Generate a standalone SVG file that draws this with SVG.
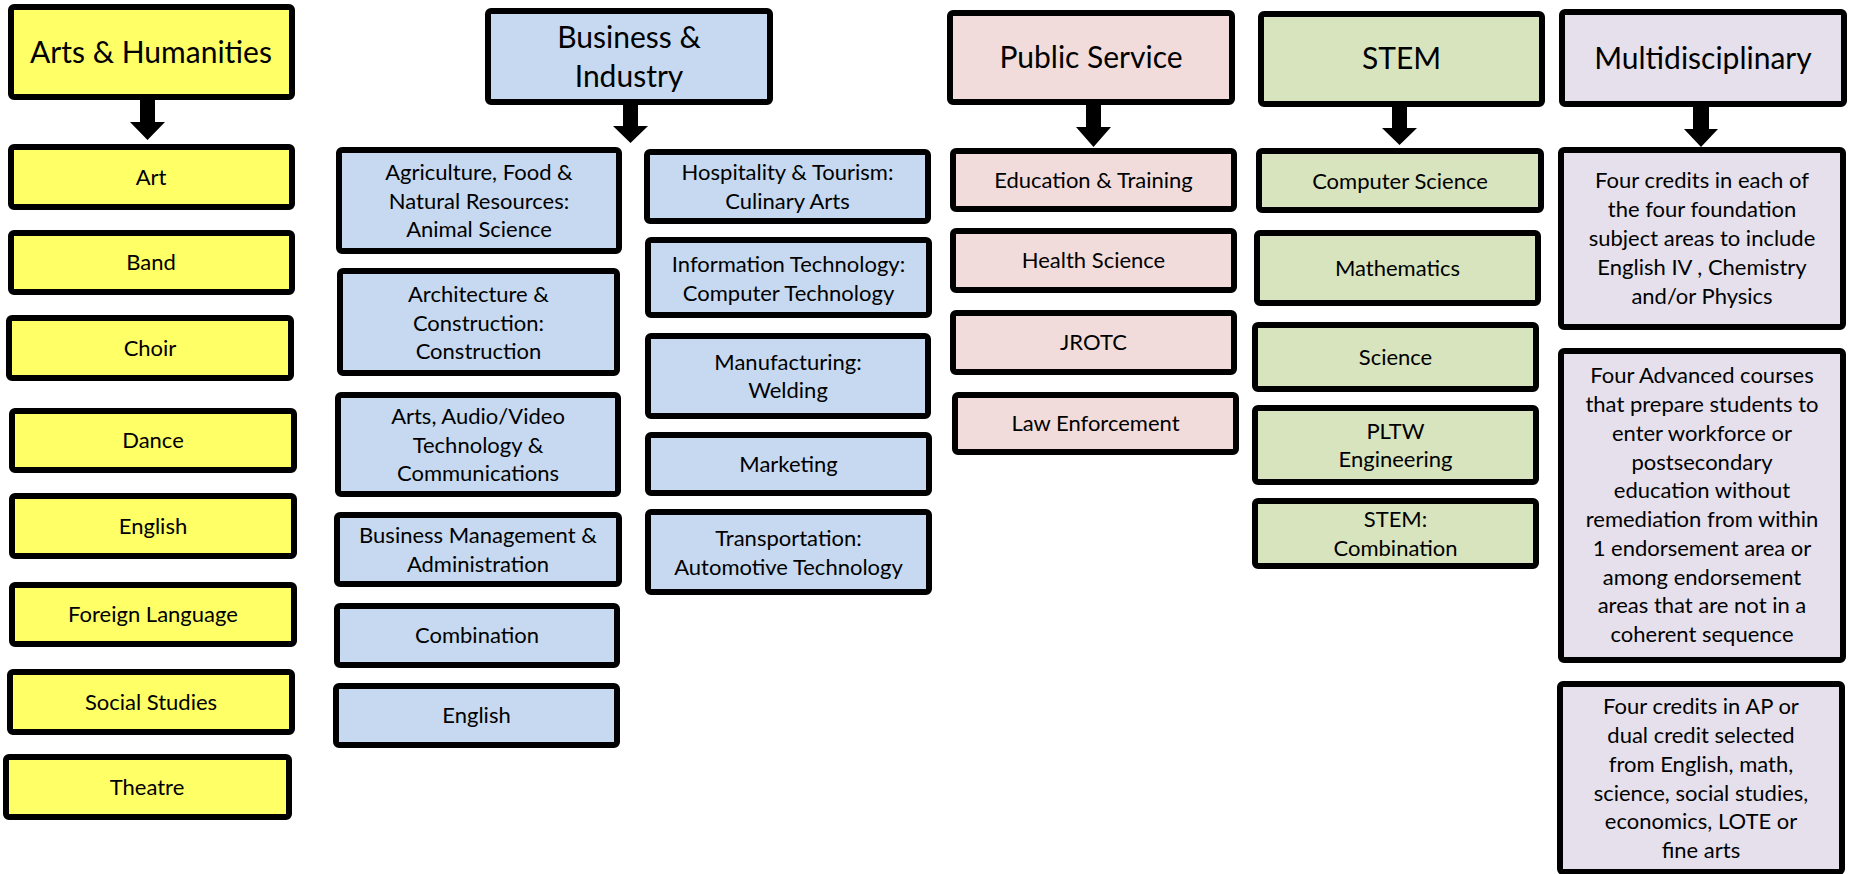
<svg xmlns="http://www.w3.org/2000/svg" width="1850" height="874" viewBox="0 0 1850 874">
<style>
rect.b{stroke:#000;stroke-width:6}
.y{fill:#FFFF66}
.bl{fill:#C6D9F1}
.pk{fill:#F2DCDB}
.gr{fill:#D7E4BD}
.pu{fill:#E5E0EC}
text{font-family:Lato,"Liberation Sans",sans-serif;fill:#000;text-anchor:middle}
.h{font-size:30px}
.c{font-size:22px}
.arr{fill:#000}
</style>
<rect width="1850" height="874" fill="#fff"/>

<g id="connectors">
<polygon class="arr" points="140,100 155,100 155,122 165,122 147.5,140 130,122 140,122"/>
<polygon class="arr" points="623,105 638,105 638,126 648,126 630.5,143 613,126 623,126"/>
<polygon class="arr" points="1086,105 1101,105 1101,127 1111,127 1093.5,147 1076,127 1086,127"/>
<polygon class="arr" points="1392,107 1407,107 1407,128 1417,128 1399.5,145 1382,128 1392,128"/>
<polygon class="arr" points="1693,107 1709,107 1709,129 1718,129 1701,147 1684,129 1693,129"/>
</g>

<!-- Arts & Humanities -->
<g id="arts-header"><rect class="b y" x="11" y="7" width="281" height="90" rx="3"/><text class="h" x="151" y="63">Arts &amp; Humanities</text></g>
<g id="arts-art"><rect class="b y" x="11" y="147" width="281" height="60" rx="3"/><text class="c" x="151" y="185">Art</text></g>
<g id="arts-band"><rect class="b y" x="11" y="233" width="281" height="59" rx="3"/><text class="c" x="151" y="270">Band</text></g>
<g id="arts-choir"><rect class="b y" x="9" y="318" width="282" height="60" rx="3"/><text class="c" x="150" y="356">Choir</text></g>
<g id="arts-dance"><rect class="b y" x="12" y="411" width="282" height="59" rx="3"/><text class="c" x="153" y="448">Dance</text></g>
<g id="arts-english"><rect class="b y" x="12" y="496" width="282" height="60" rx="3"/><text class="c" x="153" y="534">English</text></g>
<g id="arts-foreign"><rect class="b y" x="12" y="585" width="282" height="59" rx="3"/><text class="c" x="153" y="622">Foreign Language</text></g>
<g id="arts-social"><rect class="b y" x="10" y="672" width="282" height="60" rx="3"/><text class="c" x="151" y="710">Social Studies</text></g>
<g id="arts-theatre"><rect class="b y" x="6" y="757" width="283" height="60" rx="3"/><text class="c" x="147" y="795">Theatre</text></g>

<!-- Business & Industry -->
<g id="bus-header"><rect class="b bl" x="488" y="11" width="282" height="91" rx="3"/><text class="h" x="629" y="48">Business &amp;</text><text class="h" x="629" y="87">Industry</text></g>
<g id="bus-agri"><rect class="b bl" x="339" y="150" width="280" height="101" rx="3"/><text class="c" x="479" y="180">Agriculture, Food &amp;</text><text class="c" x="479" y="208.5">Natural Resources:</text><text class="c" x="479" y="237">Animal Science</text></g>
<g id="bus-arch"><rect class="b bl" x="340" y="271" width="277" height="102" rx="3"/><text class="c" x="478.5" y="302">Architecture &amp;</text><text class="c" x="478.5" y="330.5">Construction:</text><text class="c" x="478.5" y="359">Construction</text></g>
<g id="bus-av"><rect class="b bl" x="338" y="395" width="280" height="99" rx="3"/><text class="c" x="478" y="424">Arts, Audio/Video</text><text class="c" x="478" y="452.5">Technology &amp;</text><text class="c" x="478" y="481">Communications</text></g>
<g id="bus-mgmt"><rect class="b bl" x="337" y="515" width="282" height="69" rx="3"/><text class="c" x="478" y="543">Business Management &amp;</text><text class="c" x="478" y="571.5">Administration</text></g>
<g id="bus-comb"><rect class="b bl" x="337" y="606" width="280" height="59" rx="3"/><text class="c" x="477" y="643">Combination</text></g>
<g id="bus-english"><rect class="b bl" x="336" y="686" width="281" height="59" rx="3"/><text class="c" x="476.5" y="723">English</text></g>
<g id="bus-hosp"><rect class="b bl" x="647" y="152" width="281" height="69" rx="3"/><text class="c" x="787.5" y="180">Hospitality &amp; Tourism:</text><text class="c" x="787.5" y="208.5">Culinary Arts</text></g>
<g id="bus-it"><rect class="b bl" x="648" y="240" width="281" height="75" rx="3"/><text class="c" x="788.5" y="272">Information Technology:</text><text class="c" x="788.5" y="300.5">Computer Technology</text></g>
<g id="bus-mfg"><rect class="b bl" x="648" y="336" width="280" height="80" rx="3"/><text class="c" x="788" y="369.5">Manufacturing:</text><text class="c" x="788" y="398">Welding</text></g>
<g id="bus-mkt"><rect class="b bl" x="648" y="435" width="281" height="58" rx="3"/><text class="c" x="788.5" y="472">Marketing</text></g>
<g id="bus-trans"><rect class="b bl" x="648" y="512" width="281" height="80" rx="3"/><text class="c" x="788.5" y="546">Transportation:</text><text class="c" x="788.5" y="574.5">Automotive Technology</text></g>

<!-- Public Service -->
<g id="ps-header"><rect class="b pk" x="950" y="13" width="282" height="89" rx="3"/><text class="h" x="1091" y="68">Public Service</text></g>
<g id="ps-edu"><rect class="b pk" x="953" y="151" width="281" height="58" rx="3"/><text class="c" x="1093.5" y="188">Education &amp; Training</text></g>
<g id="ps-health"><rect class="b pk" x="953" y="231" width="281" height="59" rx="3"/><text class="c" x="1093.5" y="268">Health Science</text></g>
<g id="ps-jrotc"><rect class="b pk" x="953" y="313" width="281" height="59" rx="3"/><text class="c" x="1093.5" y="350">JROTC</text></g>
<g id="ps-law"><rect class="b pk" x="955" y="395" width="281" height="57" rx="3"/><text class="c" x="1095.5" y="431">Law Enforcement</text></g>

<!-- STEM -->
<g id="stem-header"><rect class="b gr" x="1261" y="14" width="281" height="90" rx="3"/><text class="h" x="1401.5" y="69">STEM</text></g>
<g id="stem-cs"><rect class="b gr" x="1259" y="151" width="282" height="59" rx="3"/><text class="c" x="1400" y="189">Computer Science</text></g>
<g id="stem-math"><rect class="b gr" x="1257" y="233" width="281" height="70" rx="3"/><text class="c" x="1397.5" y="276">Mathematics</text></g>
<g id="stem-sci"><rect class="b gr" x="1255" y="325" width="281" height="64" rx="3"/><text class="c" x="1395.5" y="365">Science</text></g>
<g id="stem-pltw"><rect class="b gr" x="1255" y="408" width="281" height="74" rx="3"/><text class="c" x="1395.5" y="438.5">PLTW</text><text class="c" x="1395.5" y="467">Engineering</text></g>
<g id="stem-comb"><rect class="b gr" x="1255" y="501" width="281" height="65" rx="3"/><text class="c" x="1395.5" y="527">STEM:</text><text class="c" x="1395.5" y="555.5">Combination</text></g>

<!-- Multidisciplinary -->
<g id="multi-header"><rect class="b pu" x="1562" y="12" width="282" height="92" rx="3"/><text class="h" x="1703" y="69">Multidisciplinary</text></g>
<g id="multi-foundation"><rect class="b pu" x="1561" y="150" width="282" height="177" rx="3"/>
<text class="c" x="1702" y="188">Four credits in each of</text>
<text class="c" x="1702" y="217">the four foundation</text>
<text class="c" x="1702" y="246">subject areas to include</text>
<text class="c" x="1702" y="275">English IV , Chemistry</text>
<text class="c" x="1702" y="304">and/or Physics</text></g>
<g id="multi-advanced"><rect class="b pu" x="1561" y="351" width="282" height="309" rx="3"/>
<text class="c" x="1702" y="383">Four Advanced courses</text>
<text class="c" x="1702" y="412">that prepare students to</text>
<text class="c" x="1702" y="441">enter workforce or</text>
<text class="c" x="1702" y="469.5">postsecondary</text>
<text class="c" x="1702" y="498">education without</text>
<text class="c" x="1702" y="527">remediation from within</text>
<text class="c" x="1702" y="556">1 endorsement area or</text>
<text class="c" x="1702" y="584.5">among endorsement</text>
<text class="c" x="1702" y="613">areas that are not in a</text>
<text class="c" x="1702" y="642">coherent sequence</text></g>
<g id="multi-ap"><rect class="b pu" x="1560" y="684" width="282" height="188" rx="3"/>
<text class="c" x="1701" y="714">Four credits in AP or</text>
<text class="c" x="1701" y="743">dual credit selected</text>
<text class="c" x="1701" y="772">from English, math,</text>
<text class="c" x="1701" y="801">science, social studies,</text>
<text class="c" x="1701" y="829">economics, LOTE or</text>
<text class="c" x="1701" y="858">fine arts</text></g>
</svg>
